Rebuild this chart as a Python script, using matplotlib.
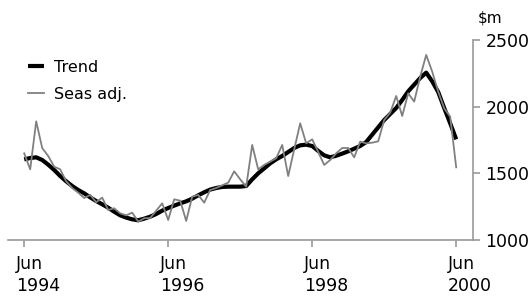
import numpy as np
import matplotlib
matplotlib.use("Agg")
import matplotlib.pyplot as plt
from matplotlib.transforms import ScaledTranslation

# monthly series, Jun 1994 .. Jun 2000 ($m)
trend = [1605, 1615, 1620, 1600, 1565, 1525, 1480, 1440, 1405, 1375,
         1350, 1320, 1292, 1268, 1242, 1212, 1185, 1168, 1155, 1148,
         1160, 1175, 1195, 1220, 1240, 1258, 1275, 1290, 1310, 1335,
         1358, 1378, 1390, 1398, 1400, 1400, 1400, 1405, 1455, 1500,
         1537, 1575, 1605, 1630, 1660, 1690, 1710, 1715, 1705, 1668,
         1635, 1620, 1632, 1648, 1665, 1685, 1705, 1735, 1790, 1845,
         1900, 1945, 1990, 2050, 2115, 2165, 2215, 2255, 2190, 2110,
         1990, 1875, 1755]
seas_adj = [1650, 1530, 1890, 1690, 1630, 1550, 1530, 1440, 1390, 1355,
            1315, 1338, 1283, 1318, 1225, 1238, 1200, 1185, 1205, 1138,
            1163, 1165, 1220, 1275, 1150, 1305, 1295, 1143, 1325, 1338,
            1280, 1375, 1390, 1410, 1430, 1515, 1455, 1400, 1713, 1530,
            1563, 1588, 1613, 1713, 1480, 1680, 1875, 1725, 1755, 1660,
            1563, 1600, 1650, 1690, 1690, 1620, 1738, 1725, 1730, 1740,
            1900, 1955, 2080, 1930, 2100, 2038, 2225, 2388, 2263, 2113,
            1988, 1925, 1545]
months = np.arange(len(trend))
tick_pos = [0, 24, 48, 72]
tick_labels = ["Jun\n1994", "Jun\n1996", "Jun\n1998", "Jun\n2000"]
y_ticks = [1000, 1500, 2000, 2500]

axcol = "#999999"

fig = plt.figure(figsize=(5.32, 2.97), dpi=100)
ax = fig.add_axes([8/532, 1-240/297, (473-8)/532, 200/297])

ax.plot(months, trend, color="black", lw=3, label="Trend", zorder=2,
        solid_capstyle="butt")
ax.plot(months, seas_adj, color="#808080", lw=1.3, label="Seas adj.", zorder=3)

ax.set_xlim(-2.7, 74.8)
ax.set_ylim(1000, 2500)

for s in ["top", "left"]:
    ax.spines[s].set_visible(False)
for s in ["right", "bottom"]:
    ax.spines[s].set_color(axcol)
    ax.spines[s].set_linewidth(1.2)

ax.yaxis.tick_right()
ax.set_yticks(y_ticks)
ax.tick_params(axis="y", direction="out", length=5, width=1.2, color=axcol,
               pad=4, labelsize=12.5)
ax.set_xticks(tick_pos)
ax.set_xticklabels(tick_labels, linespacing=1.28)
ax.tick_params(axis="x", direction="out", length=5, width=1.2, color=axcol,
               pad=6, labelsize=12.5)
for lab in ax.get_xticklabels():
    lab.set_horizontalalignment("left")
    lab.set_transform(lab.get_transform() + ScaledTranslation(-0.085, 0, fig.dpi_scale_trans))

fig.text(478/532, 1-18/297, r"\$m", fontsize=11, va="center", ha="left")

leg = ax.legend(loc="upper left", bbox_to_anchor=(20/465, 1+(40-60)/200),
                frameon=False, fontsize=11.5, handlelength=1.0,
                handletextpad=0.6, labelspacing=0.75, borderpad=0,
                borderaxespad=0)

fig.savefig("out.png", dpi=100)
